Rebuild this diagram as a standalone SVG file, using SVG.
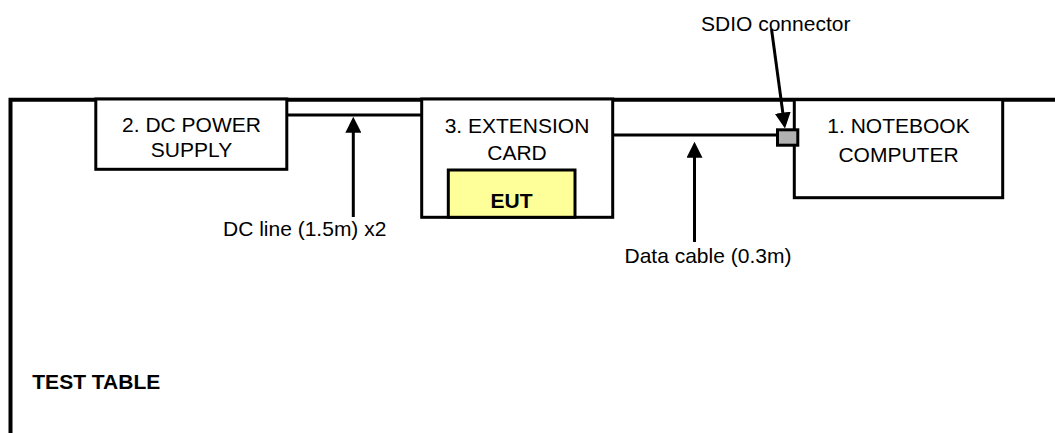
<svg xmlns="http://www.w3.org/2000/svg" width="1055" height="433" viewBox="0 0 1055 433">
<style>
  text { font-family: "Liberation Sans", Arial, sans-serif; font-size: 21px; fill: #000; }
  .c { text-anchor: middle; }
  .b { font-weight: bold; }
  .box { fill: #fff; stroke: #000; stroke-width: 3; }
  .cable { stroke: #000; stroke-width: 3; fill: none; }
  .arrow { stroke: #000; stroke-width: 3; fill: none; marker-end: url(#ah); }
</style>
<defs>
  <marker id="ah" markerUnits="userSpaceOnUse" markerWidth="16" markerHeight="16" refX="8" refY="8" orient="auto">
    <path d="M0,0 L16,8 L0,16 z" fill="#000"/>
  </marker>
</defs>
<rect x="0" y="0" width="1055" height="433" fill="#fff"/>
<g id="test-table">
  <path d="M10.5,433 L10.5,99.7 L1055,99.7" fill="none" stroke="#000" stroke-width="4"/>
  <text x="32.3" y="389" class="b">TEST TABLE</text>
</g>
<g id="connectors">
  <line class="cable" x1="287" y1="115" x2="421.7" y2="115"/>
  <line class="cable" x1="612.7" y1="135" x2="777.5" y2="135"/>
  <line class="arrow" x1="353.3" y1="217" x2="353.3" y2="124.7"/>
  <line class="arrow" x1="694.5" y1="242" x2="694.5" y2="149.7"/>
  <line class="arrow" x1="771.5" y1="29" x2="783.9" y2="120.6"/>
</g>
<g id="dc-power-supply">
  <rect class="box" x="95.8" y="99" width="191" height="70.3"/>
  <text class="c" x="191.5" y="131.7">2. DC POWER</text>
  <text class="c" x="191.5" y="156.7">SUPPLY</text>
</g>
<g id="extension-card">
  <rect class="box" x="421.7" y="99" width="191" height="118.3"/>
  <text class="c" x="517" y="133.3">3. EXTENSION</text>
  <text class="c" x="517" y="160">CARD</text>
</g>
<g id="eut">
  <rect x="448.3" y="170" width="126.7" height="47.3" fill="#FFFF99" stroke="#000" stroke-width="3"/>
  <text class="c b" x="511.5" y="208">EUT</text>
</g>
<g id="notebook-computer">
  <rect class="box" x="794.3" y="99.7" width="208.4" height="98"/>
  <text class="c" x="898.5" y="133.3">1. NOTEBOOK</text>
  <text class="c" x="898.5" y="161.7">COMPUTER</text>
</g>
<g id="sdio-connector">
  <rect x="777.5" y="129.8" width="20.3" height="15.4" fill="#B2B2B2" stroke="#000" stroke-width="3"/>
</g>
<g id="labels">
  <text x="223" y="236">DC line (1.5m) x2</text>
  <text x="624.5" y="263">Data cable (0.3m)</text>
  <text x="701" y="31">SDIO connector</text>
</g>
</svg>
